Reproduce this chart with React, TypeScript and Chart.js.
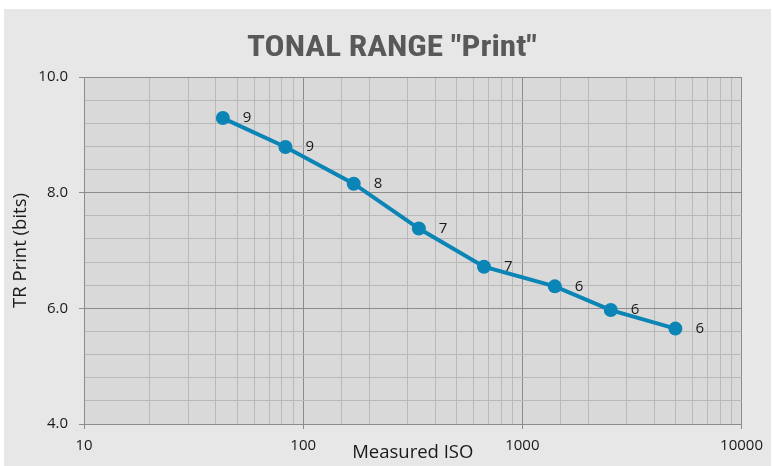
import React, { useEffect, useRef } from "react";
import { Chart, registerables } from "chart.js";

Chart.register(...registerables);

const TITLE = 'TONAL RANGE "Print"';
const X_TITLE = "Measured ISO";
const Y_TITLE = "TR Print (bits)";
const isoValues = [43, 83, 170, 337, 668, 1406, 2530, 4990];
const trValues = [9.29, 8.79, 8.155, 7.38, 6.72, 6.38, 5.97, 5.65];
const pointLabels = ["9", "9", "8", "7", "7", "6", "6", "6"];
const yMajorTicks = [4, 6, 8, 10];
const xMajorTicks = [10, 100, 1000, 10000];

const MAJOR = "#8c8c8c";
const MINOR = "#b9b9b9";
const LINE = "#0b84b6";
const TEXT = "#1a1a1a";

const isYMajor = (v: number) => yMajorTicks.some((m) => Math.abs(m - v) < 1e-6);
const isXMajor = (v: number) => xMajorTicks.some((m) => Math.abs(m - v) < 1e-6);

const decorPlugin = {
  id: "decor",
  beforeDraw(chart: any) {
    const { ctx, chartArea } = chart;
    ctx.save();
    ctx.fillStyle = "#d9d9d9";
    ctx.fillRect(chartArea.left, chartArea.top, chartArea.right - chartArea.left, chartArea.bottom - chartArea.top);
    ctx.restore();
  },
  afterDraw(chart: any) {
    const { ctx } = chart;
    ctx.save();
    ctx.font = "bold 29px 'Roboto Condensed', 'Liberation Sans Narrow', 'Arial Narrow', Roboto, sans-serif";
    ctx.fillStyle = "#595959";
    ctx.textAlign = "left";
    ctx.textBaseline = "alphabetic";
    const target = 290;
    const w = ctx.measureText(TITLE).width;
    const sx = w > 0 ? target / w : 1;
    const cx = 388;
    ctx.translate(cx - target / 2, 47);
    ctx.scale(sx, 1);
    ctx.fillText(TITLE, 0, 0);
    ctx.restore();

    const meta = chart.getDatasetMeta(0);
    ctx.save();
    ctx.font = "15px 'Open Sans', sans-serif";
    ctx.fillStyle = TEXT;
    ctx.textAlign = "left";
    ctx.textBaseline = "middle";
    meta.data.forEach((pt: any, i: number) => {
      ctx.fillText(pointLabels[i], pt.x + 20, pt.y);
    });
    ctx.restore();
  },
};

export default function App() {
  const ref = useRef<HTMLCanvasElement | null>(null);
  useEffect(() => {
    if (!ref.current) return;
    const chart = new Chart(ref.current, {
      type: "line",
      data: {
        datasets: [
          {
            data: isoValues.map((x, i) => ({ x, y: trValues[i] })),
            borderColor: LINE,
            backgroundColor: LINE,
            borderWidth: 4,
            pointRadius: 7,
            pointBackgroundColor: LINE,
            pointBorderWidth: 0,
            tension: 0,
          },
        ],
      },
      options: {
        responsive: false,
        animation: false,
        layout: { padding: { top: 68, right: 26, left: 0, bottom: 0 } },
        plugins: { legend: { display: false }, tooltip: { enabled: false }, title: { display: false } },
        scales: {
          x: {
            type: "logarithmic",
            min: 10,
            max: 10000,
            afterFit: (s: any) => {
              s.height = 42;
            },
            border: { display: true, color: MAJOR, width: 1 },
            grid: {
              color: (c: any) => (c.tick && isXMajor(c.tick.value) ? MAJOR : MINOR),
              tickColor: (c: any) => (c.tick && isXMajor(c.tick.value) ? MAJOR : "rgba(0,0,0,0)"),
              tickLength: 5,
              lineWidth: 1,
            },
            ticks: {
              autoSkip: false,
              maxRotation: 0,
              padding: 8,
              color: TEXT,
              font: { family: "'Open Sans', sans-serif", size: 15 },
              callback: (v: any) => (isXMajor(Number(v)) ? String(v) : ""),
            },
            title: {
              display: true,
              text: X_TITLE,
              color: TEXT,
              font: { family: "'Open Sans', sans-serif", size: 18.5 },
              padding: { top: 0, bottom: 2 },
            },
          },
          y: {
            min: 4,
            max: 10,
            afterFit: (s: any) => {
              s.width = 80;
            },
            border: { display: true, color: MAJOR, width: 1 },
            grid: {
              color: (c: any) => (c.tick && isYMajor(c.tick.value) ? MAJOR : MINOR),
              tickColor: (c: any) => (c.tick && isYMajor(c.tick.value) ? MAJOR : "rgba(0,0,0,0)"),
              tickLength: 5,
              lineWidth: 1,
            },
            ticks: {
              stepSize: 0.4,
              autoSkip: false,
              padding: 11,
              color: TEXT,
              font: { family: "'Open Sans', sans-serif", size: 15 },
              callback: (v: any) => (isYMajor(Number(v)) ? Number(v).toFixed(1) : ""),
            },
            title: {
              display: true,
              text: Y_TITLE,
              color: TEXT,
              font: { family: "'Open Sans', sans-serif", size: 18.5 },
              padding: { top: 6, bottom: 0 },
            },
          },
        },
      },
      plugins: [decorPlugin],
    });
    return () => chart.destroy();
  }, []);

  return (
    <div style={{ position: "absolute", left: 0, top: 0, width: 773, height: 466, background: "#ffffff", overflow: "hidden" }}>
      <canvas
        ref={ref}
        width={767}
        height={457}
        style={{ position: "absolute", left: 4, top: 9, width: 767, height: 457, background: "#e7e7e7", display: "block" }}
      />
    </div>
  );
}
